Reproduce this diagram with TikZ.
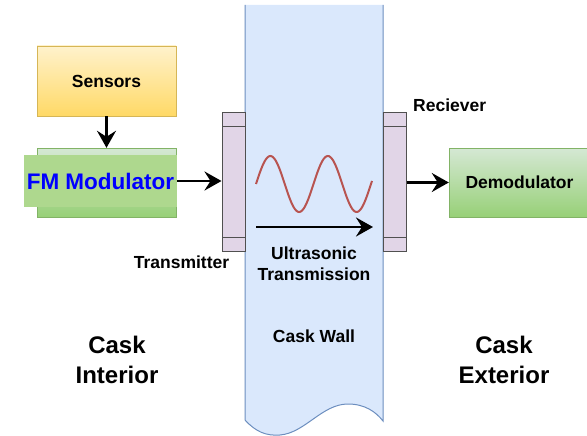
\documentclass[tikz,border=0pt]{standalone}
\usepackage{fontspec}
\setmainfont{Liberation Sans}
\usepackage{xcolor}
\usetikzlibrary{arrows.meta,positioning}

\definecolor{wallfill}{HTML}{DAE8FC}
\definecolor{wallline}{HTML}{6C8EBF}
\definecolor{yeltop}{HTML}{FFF2CC}
\definecolor{yelbot}{HTML}{FFD966}
\definecolor{yelline}{HTML}{D6B656}
\definecolor{grntop}{HTML}{D5E8D4}
\definecolor{grnbot}{HTML}{97D077}
\definecolor{grnline}{HTML}{82B366}
\definecolor{fmback}{HTML}{AED88E}
\definecolor{padfill}{HTML}{E1D5E7}
\definecolor{padline}{HTML}{505050}
\definecolor{wavered}{HTML}{B85450}

\begin{document}
\begin{tikzpicture}[x=1pt,y=-1pt,
      yelbox/.style={draw=yelline, top color=yeltop, bottom color=yelbot,
        minimum width=139pt, minimum height=70pt, inner sep=0pt,
        font=\fontsize{17.5}{21}\selectfont\bfseries},
      grnbox/.style={draw=grnline, top color=grntop, bottom color=grnbot,
        minimum width=139pt, minimum height=69pt, inner sep=0pt,
        font=\fontsize{17.5}{21}\selectfont\bfseries},
      pad/.style={draw=padline, fill=padfill, line width=1pt,
        minimum width=23pt, minimum height=138pt, inner sep=0pt},
      lbl/.style={inner sep=0pt, font=\fontsize{17.5}{21}\selectfont\bfseries},
      biglbl/.style={inner sep=0pt, align=center,
        font=\fontsize{24}{30}\selectfont\bfseries},
      arr/.style={line width=2.6pt, -{Stealth[length=17pt,width=19pt,inset=6pt]}},
      >=Stealth]
    \useasboundingbox (0,0) rectangle (587,436);

    % cask wall
    \fill[wallfill] (245,5) -- (245,420)
      .. controls (256,432) and (266,436) .. (280,435)
      .. controls (305,433) and (322,404) .. (348,404)
      .. controls (365,404) and (376,412) .. (383,421) -- (383,5) -- cycle;
    \draw[wallline, line width=1pt] (245,5) -- (245,420)
      .. controls (256,432) and (266,436) .. (280,435)
      .. controls (305,433) and (322,404) .. (348,404)
      .. controls (365,404) and (376,412) .. (383,421) -- (383,5);

    \node[yelbox] (sens) at (106.5,81) {Sensors};
    \node[grnbox] (fmbox) at (106.5,182.5) {};
    \node[fill=fmback, minimum width=153pt, minimum height=52pt, inner sep=0pt,
      text=blue, font=\fontsize{22.5}{26}\selectfont\bfseries] (fmlab) at (100.5,181) {FM Modulator};
    \node[grnbox, minimum width=141pt] (demod) at (519.5,182.5) {Demodulator};

    \node[pad] (tx) at (233.5,182) {};
    \node[pad] (rx) at (394.5,182) {};
    \draw[padline, line width=1pt] (222,127) -- (245,127) (222,237) -- (245,237);
    \draw[padline, line width=1pt] (383,127) -- (406,127) (383,237) -- (406,237);

    \draw[arr] (sens) -- (fmbox);
    \draw[arr] (fmlab.east) -- (tx.west |- fmlab.east);
    \draw[arr] (rx.east |- demod.west) -- (demod.west);

    % ultrasonic wave
    \draw[wavered, line width=2pt] plot[domain=0:116, samples=90]
      ({256+\x},{184-28*sin(\x*6.2609)});
    \coordinate (us0) at (256,227);
    \coordinate (us1) at (373,227);
    \draw[arr] (us0) -- (us1);

    \node[lbl, anchor=base] (txlab) at (181.5,268) {Transmitter};
    \node[lbl, anchor=base west] (rxlab) at (413,111) {Reciever};
    \node[lbl, align=center] (uslab) at (314,264) {Ultrasonic\\Transmission};
    \node[lbl, anchor=base] (wall) at (314,342) {Cask Wall};
    \node[biglbl] (inside) at (117,360) {Cask\\Interior};
    \node[biglbl] (outside) at (504,360) {Cask\\Exterior};
  \end{tikzpicture}
\end{document}
